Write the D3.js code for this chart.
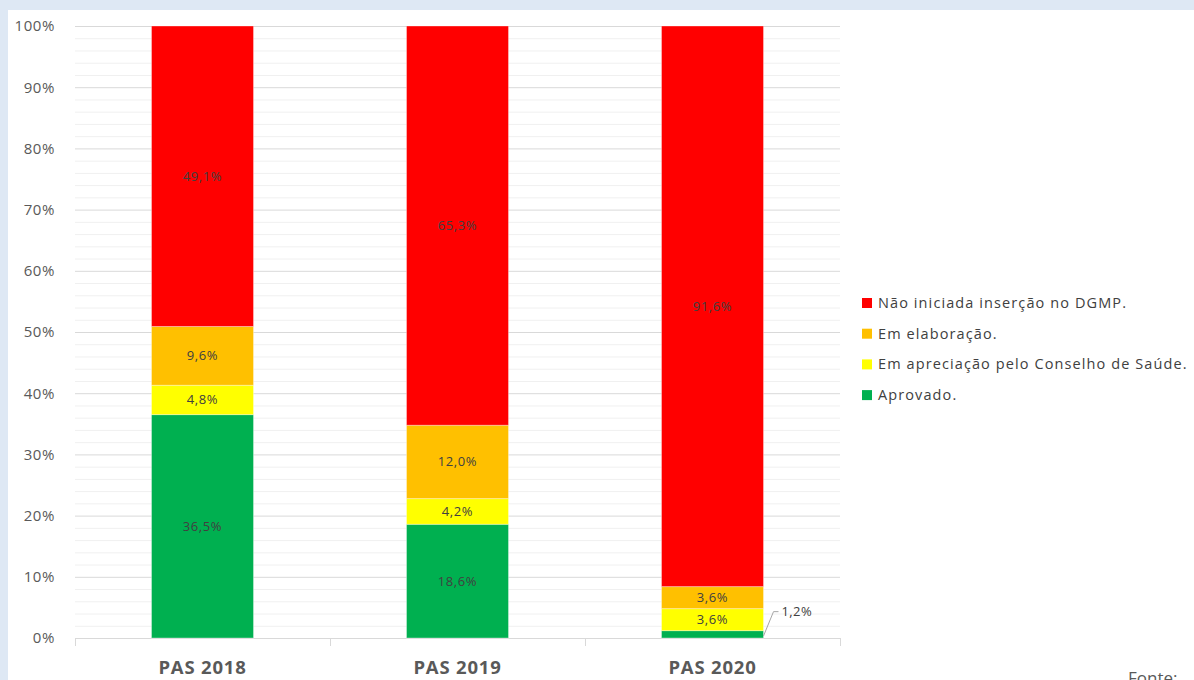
<!DOCTYPE html>
<html><head><meta charset="utf-8">
<script src="https://cdn.jsdelivr.net/npm/d3@7"></script>
<style>
html,body{margin:0;padding:0;background:#dee8f4;}
svg{display:block;}
</style></head>
<body>
<svg id="c" width="1194" height="680"></svg>
<script>
const categories = ["PAS 2018", "PAS 2019", "PAS 2020"];
const seriesNames = ["Aprovado.", "Em apreciação pelo Conselho de Saúde.", "Em elaboração.", "Não iniciada inserção no DGMP."];
const seriesColors = ["#00b050", "#ffff00", "#ffc000", "#ff0000"];
const aprovado   = [36.5, 18.6, 1.2];
const apreciacao = [4.8, 4.2, 3.6];
const elaboracao = [9.6, 12.0, 3.6];
const naoIniciada = [49.1, 65.3, 91.6];
const yTicks = [0,10,20,30,40,50,60,70,80,90,100];

const FONT = "'Open Sans', sans-serif";
const svg = d3.select("#c");
svg.append("rect").attr("x",8).attr("y",10).attr("width",1186).attr("height",670).attr("fill","#fff");

const m = {l:75, r:840, t:26, b:638};
const x = d3.scaleBand().domain(categories).range([m.l, m.r]).paddingInner(0).paddingOuter(0);
const y = d3.scaleLinear().domain([0,100]).range([m.b, m.t]);

// minor grid
const minor = d3.range(0,101,2).filter(v=>v%10!==0);
svg.append("g").selectAll("line").data(minor).join("line")
  .attr("x1",m.l).attr("x2",m.r).attr("y1",d=>y(d)+0.5).attr("y2",d=>y(d)+0.5)
  .attr("stroke","#f0f0f0").attr("stroke-width",1);
// major grid
svg.append("g").selectAll("line").data(yTicks.filter(v=>v>0)).join("line")
  .attr("x1",m.l).attr("x2",m.r).attr("y1",d=>y(d)+0.5).attr("y2",d=>y(d)+0.5)
  .attr("stroke","#d9d9d9").attr("stroke-width",1);

// y axis labels
const yAxis = d3.axisLeft(y).tickValues(yTicks).tickFormat(d=>d+"%").tickSize(0).tickPadding(20);
const ya = svg.append("g").attr("transform",`translate(${m.l},0)`).call(yAxis);
ya.select(".domain").remove();
ya.selectAll("text").attr("font-family",FONT).attr("font-size",15).attr("letter-spacing",0.6).attr("fill","#595959");

// x axis
const xa = svg.append("g").attr("transform",`translate(0,${m.b})`);
xa.append("line").attr("x1",m.l).attr("x2",m.r).attr("y1",0.5).attr("y2",0.5).attr("stroke","#d9d9d9");
const bounds = [m.l, ...categories.map(c=>x(c)+x.bandwidth())];
xa.selectAll("line.tk").data(bounds).join("line").attr("class","tk")
  .attr("x1",d=>d+0.5).attr("x2",d=>d+0.5).attr("y1",0).attr("y2",8).attr("stroke","#d9d9d9");
xa.selectAll("text").data(categories).join("text")
  .attr("x",d=>x(d)+x.bandwidth()/2).attr("y",36)
  .attr("text-anchor","middle").attr("font-family",FONT)
  .attr("font-weight","bold").attr("font-size",18.5).attr("letter-spacing",0.8).attr("fill","#595959").text(d=>d);

// stacked data (100% normalized)
const rows = categories.map((c,i)=>{
  const vals = [aprovado[i], apreciacao[i], elaboracao[i], naoIniciada[i]];
  const tot = d3.sum(vals);
  const o = {cat:c};
  seriesNames.forEach((s,j)=>{o[s]=vals[j]/tot*100; o["raw"+j]=vals[j];});
  return o;
});
const stack = d3.stack().keys(seriesNames)(rows);
const bw = x.bandwidth()*0.4;
const fmt = v => v.toFixed(1).replace(".",",")+"%";

stack.forEach((layer,j)=>{
  const g = svg.append("g");
  g.selectAll("rect").data(layer).join("rect")
    .attr("x",d=>x(d.data.cat)+(x.bandwidth()-bw)/2)
    .attr("width",bw)
    .attr("y",d=>y(d[1]))
    .attr("height",d=>y(d[0])-y(d[1]))
    .attr("fill",seriesColors[j])
    .attr("stroke","rgba(255,255,255,0.35)").attr("stroke-width",1);
});
// labels
stack.forEach((layer,j)=>{
  layer.forEach(d=>{
    const raw = d.data["raw"+j];
    const cx = x(d.data.cat)+x.bandwidth()/2;
    if (raw < 2) {
      const bx = x(d.data.cat)+(x.bandwidth()+bw)/2;
      const by = y(d[0]) - 2;
      svg.append("path").attr("d",`M${bx},${by} L${bx+10},${y(d[1])-19} L${bx+15},${y(d[1])-19}`)
        .attr("fill","none").attr("stroke","#a6a6a6").attr("stroke-width",1);
      svg.append("text").attr("x",bx+18).attr("y",y(d[1])-19).attr("dy","0.35em")
        .attr("font-family",FONT).attr("font-size",13).attr("letter-spacing",0.4).attr("fill","#404040").text(fmt(raw));
    } else {
      svg.append("text").attr("x",cx).attr("y",(y(d[0])+y(d[1]))/2).attr("dy","0.35em")
        .attr("text-anchor","middle").attr("font-family",FONT).attr("font-size",13).attr("letter-spacing",0.6)
        .attr("fill","#404040").text(fmt(raw));
    }
  });
});

// legend
const legOrder = [3,2,1,0];
const lg = svg.append("g");
legOrder.forEach((j,k)=>{
  const cy = 303 + k*30.7;
  lg.append("rect").attr("x",862).attr("y",cy-5).attr("width",10).attr("height",10).attr("fill",seriesColors[j]);
  lg.append("text").attr("x",878).attr("y",cy).attr("dy","0.35em")
    .attr("font-family",FONT).attr("font-size",14.5).attr("letter-spacing",1.1).attr("fill","#404040").text(seriesNames[j]);
});

svg.append("text").attr("x",1128).attr("y",684).attr("font-family",FONT)
  .attr("font-size",17).attr("fill","#595959").text("Fonte:");
</script>
</body></html>
